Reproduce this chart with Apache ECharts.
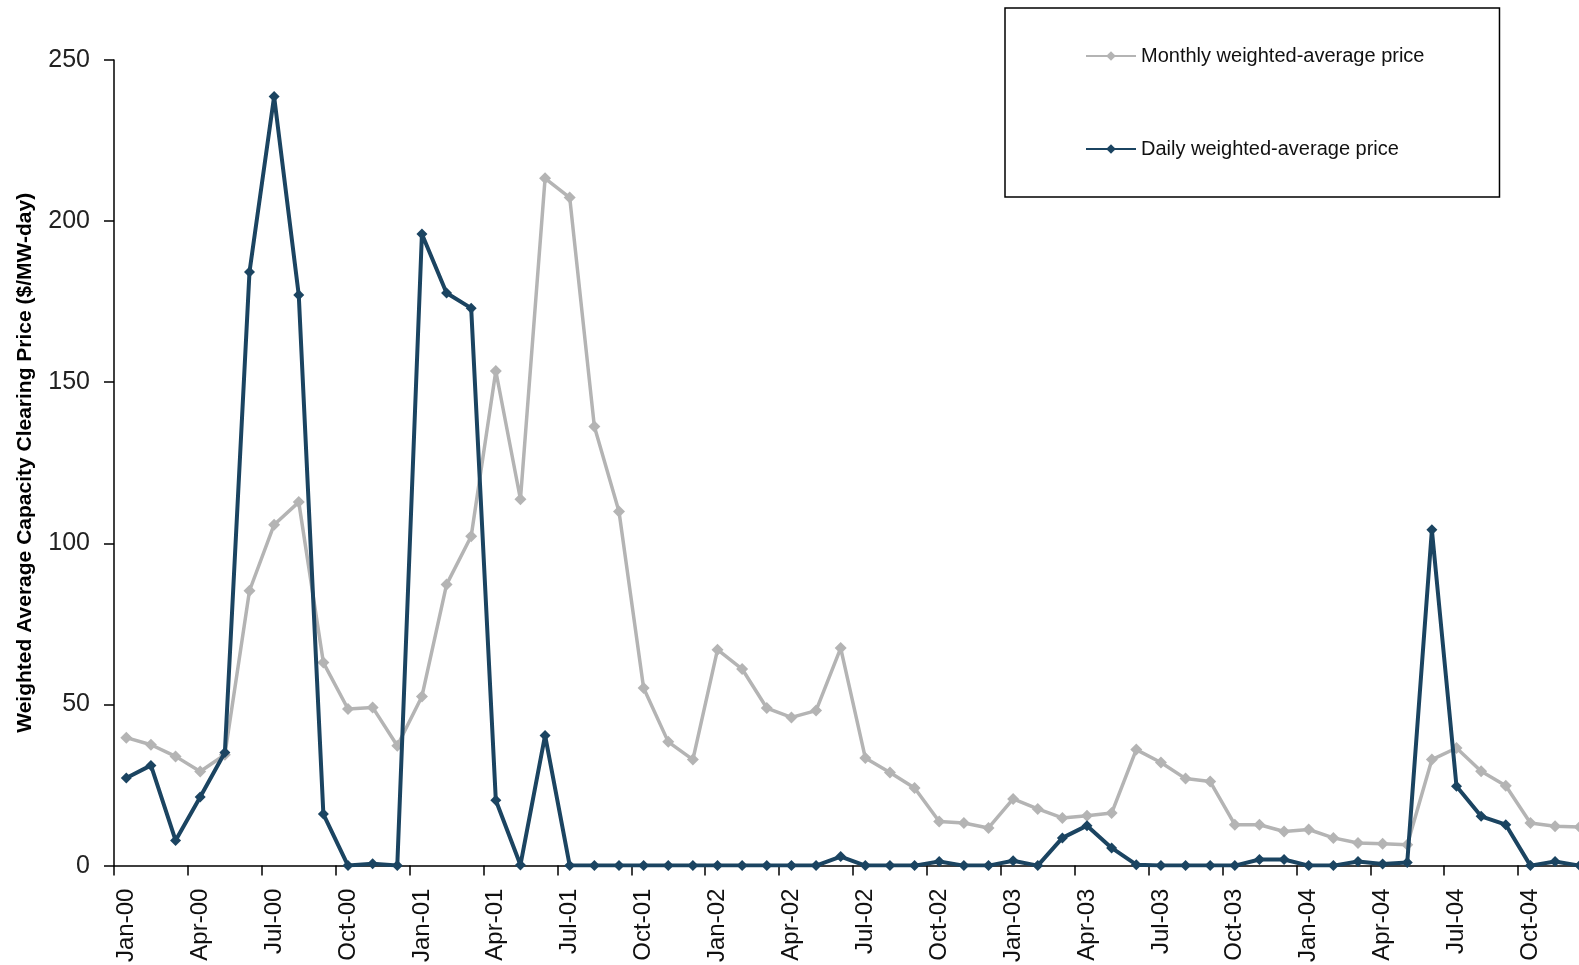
<!DOCTYPE html>
<html>
<head>
<meta charset="utf-8">
<script src="https://cdn.jsdelivr.net/npm/echarts@6/dist/echarts.min.js"></script>
<style>
html,body{margin:0;padding:0;background:#fff;overflow:hidden;width:1579px;height:965px;}
#chart{width:1640px;height:965px;}
</style>
</head>
<body>
<div id="chart"></div>
<script>
var categories = [
 'Jan-00','Feb-00','Mar-00','Apr-00','May-00','Jun-00','Jul-00','Aug-00','Sep-00','Oct-00','Nov-00','Dec-00',
 'Jan-01','Feb-01','Mar-01','Apr-01','May-01','Jun-01','Jul-01','Aug-01','Sep-01','Oct-01','Nov-01','Dec-01',
 'Jan-02','Feb-02','Mar-02','Apr-02','May-02','Jun-02','Jul-02','Aug-02','Sep-02','Oct-02','Nov-02','Dec-02',
 'Jan-03','Feb-03','Mar-03','Apr-03','May-03','Jun-03','Jul-03','Aug-03','Sep-03','Oct-03','Nov-03','Dec-03',
 'Jan-04','Feb-04','Mar-04','Apr-04','May-04','Jun-04','Jul-04','Aug-04','Sep-04','Oct-04','Nov-04','Dec-04'
];
var monthlyPrice = [
 39.7, 37.5, 33.9, 29.2, 34.4, 85.3, 105.8, 112.8, 63.0, 48.6, 49.1, 37.2,
 52.5, 87.2, 102.2, 153.5, 113.7, 213.3, 207.3, 136.3, 109.9, 55.1, 38.4, 32.9,
 67.0, 61.0, 48.9, 46.0, 48.1, 67.5, 33.4, 28.9, 24.1, 13.7, 13.2, 11.7,
 20.7, 17.6, 14.8, 15.5, 16.3, 36.0, 32.0, 27.0, 26.1, 12.7, 12.7, 10.6,
 11.2, 8.6, 7.0, 6.8, 6.5, 32.9, 36.5, 29.3, 24.8, 13.2, 12.2, 12.0
];
var dailyPrice = [
 27.2, 31.1, 7.8, 21.3, 35.1, 184.2, 238.7, 177.1, 16.0, 0, 0.6, 0,
 196.0, 177.7, 173.0, 20.3, 0.2, 40.4, 0, 0, 0, 0, 0, 0,
 0, 0, 0, 0, 0, 2.8, 0, 0, 0, 1.3, 0, 0,
 1.5, 0, 8.6, 12.4, 5.5, 0.3, 0, 0, 0, 0, 1.9, 1.9,
 0, 0, 1.3, 0.5, 1.0, 104.2, 24.6, 15.3, 12.7, 0, 1.3, 0
];
var yTicks = [0, 50, 100, 150, 200, 250];
var seriesNames = ['Monthly weighted-average price', 'Daily weighted-average price'];
var yAxisTitle = 'Weighted Average Capacity Clearing Price ($/MW-day)';

var FONT = "'Liberation Sans', Arial, sans-serif";
var GREY = '#b4b4b4';
var NAVY = '#1b4461';
var chart = echarts.init(document.getElementById('chart'), null, {renderer: 'canvas'});
chart.setOption({
  animation: false,
  backgroundColor: '#ffffff',
  textStyle: {fontFamily: FONT},
  legend: {
    data: seriesNames,
    orient: 'vertical',
    left: 1005,
    top: 8,
    padding: [38, 75, 38, 80],
    itemGap: 73,
    itemWidth: 50,
    itemHeight: 12,
    borderColor: '#000',
    borderWidth: 1.5,
    textStyle: {fontSize: 20, color: '#111', fontFamily: FONT}
  },
  grid: {left: 114, top: 60, width: 1478, height: 806, containLabel: false},
  xAxis: {
    type: 'category',
    data: categories,
    boundaryGap: true,
    axisLine: {lineStyle: {color: '#000', width: 1.5}},
    axisTick: {show: true, interval: 2, length: 10, alignWithLabel: false, lineStyle: {color: '#000', width: 1.5}},
    axisLabel: {interval: 2, rotate: 90, margin: 23, fontSize: 24, color: '#111', fontFamily: FONT},
    splitLine: {show: false}
  },
  yAxis: {
    type: 'value',
    min: yTicks[0],
    max: yTicks[yTicks.length - 1],
    interval: 50,
    axisLine: {show: true, lineStyle: {color: '#000', width: 1.5}},
    axisTick: {show: true, length: 10, lineStyle: {color: '#000', width: 1.5}},
    axisLabel: {margin: 24, fontSize: 25, color: '#222', fontFamily: FONT},
    splitLine: {show: false},
    name: yAxisTitle,
    nameLocation: 'middle',
    nameGap: 78,
    nameTextStyle: {fontSize: 21, fontWeight: 'bold', color: '#000', fontFamily: FONT}
  },
  series: [
    {
      name: seriesNames[0],
      type: 'line',
      data: monthlyPrice,
      symbol: 'diamond',
      symbolSize: 12,
      color: GREY,
      lineStyle: {width: 3.5, color: GREY},
      itemStyle: {color: GREY},
      z: 2
    },
    {
      name: seriesNames[1],
      type: 'line',
      data: dailyPrice,
      symbol: 'diamond',
      symbolSize: 11,
      color: NAVY,
      lineStyle: {width: 4, color: NAVY},
      itemStyle: {color: NAVY},
      z: 3
    }
  ]
});
</script>
</body>
</html>
